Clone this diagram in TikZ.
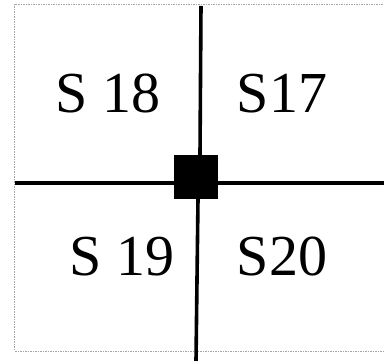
\documentclass[tikz,border=0pt]{standalone}
\usepackage{fontspec}
\setmainfont{Liberation Serif}
\begin{document}
\begin{tikzpicture}[x=1pt,y=-1pt,
  frame/.style={draw=gray!70,dashed,line width=0.6pt,dash pattern=on 1.5pt off 1pt},
  axis/.style={draw=black,line width=3.6pt},
  hub/.style={fill=black,minimum size=44pt,inner sep=0pt,outer sep=0pt},
  lbl/.style={font=\fontsize{58}{60}\selectfont,inner sep=0pt,anchor=base}]
\useasboundingbox (0,0) rectangle (384,363);
\draw[frame] (385,4.5) -- (14.5,4.5) -- (14.5,351) -- (385,351);
\coordinate (top) at (201,6);
\coordinate (bot) at (196,361);
\coordinate (lft) at (14.5,183);
\coordinate (rgt) at (384,183);
\node[hub] (c) at (196,177) {};
\draw[axis] (lft) -- (rgt);
\draw[axis] (top) -- (c.north -| 200,0);
\draw[axis] (c.south -| 198,0) -- (bot);
\node[hub] at (196,177) {};
\node[lbl] (s18) at (108,113) {S 18};
\node[lbl] (s17) at (282,113) {S17};
\node[lbl] (s19) at (122,276) {S 19};
\node[lbl] (s20) at (282,276) {S20};
\end{tikzpicture}
\end{document}
